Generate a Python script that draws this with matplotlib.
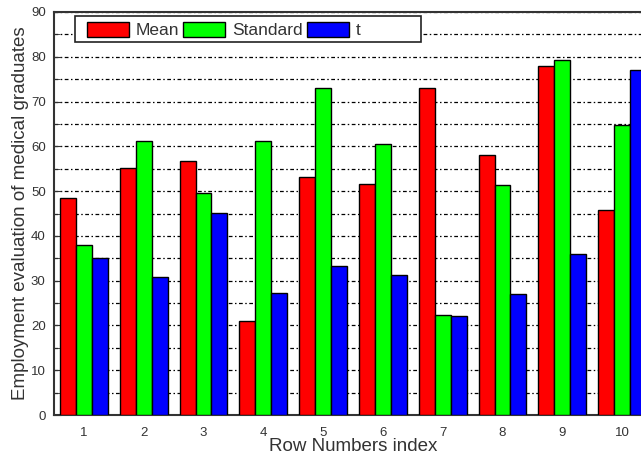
import numpy as np
import matplotlib.pyplot as plt
from matplotlib.patches import Rectangle

plt.rcParams['font.family'] = ['Liberation Sans', 'DejaVu Sans']

# employment evaluation per row index
rows = [1, 2, 3, 4, 5, 6, 7, 8, 9, 10]
mean_vals = [48.4, 55.2, 56.7, 21.1, 53.1, 51.6, 73.0, 58.1, 78.0, 45.7]
std_vals = [38.0, 61.2, 49.6, 61.2, 73.0, 60.5, 22.3, 51.3, 79.2, 64.7]
t_vals = [35.1, 30.9, 45.2, 27.3, 33.3, 31.2, 22.1, 27.0, 36.0, 77.1]
series_names = ['Mean', 'Standard', 't']

fig = plt.figure(figsize=(6.41, 4.55), dpi=100)
ax = fig.add_axes([54 / 641, 40 / 455, 598 / 641, 403 / 455])

x = np.array(rows)
w = 0.267
gray = '#333333'
for off, vals, col, name in zip([-w, 0, w], [mean_vals, std_vals, t_vals],
                                ['#ff0000', '#00ff00', '#0000ff'], series_names):
    ax.bar(x + off, vals, width=w, color=col, edgecolor='black',
           linewidth=1.0, label=name, zorder=3)

ax.set_xlim(0.5, 10.5)
ax.set_ylim(0, 90)
ax.set_xticks(rows)
ax.set_yticks(np.arange(0, 91, 10))
ax.set_yticks(np.arange(0, 91, 5), minor=True)

ax.yaxis.grid(True, which='both', color='black', linewidth=0.9,
              dashes=(3, 2, 1.2, 2), zorder=1)
ax.set_axisbelow(True)

ax.tick_params(axis='both', which='both', direction='in', color=gray,
               labelcolor=gray, labelsize=9.5)
ax.tick_params(axis='y', which='major', length=5, pad=6)
ax.tick_params(axis='y', which='minor', length=4)
ax.tick_params(axis='x', which='major', length=6, pad=9)
ax.tick_params(axis='x', which='minor', length=0)

for s in ['left', 'bottom', 'top']:
    ax.spines[s].set_color(gray)
    ax.spines[s].set_linewidth(1.5)
ax.spines['right'].set_visible(False)

ax.set_xlabel('Row Numbers index', fontsize=13.5, color=gray, labelpad=-1)
ax.set_ylabel('Employment evaluation of medical graduates', fontsize=13.5,
              color=gray, labelpad=1)

# legend box drawn separately so it can be wider than its entries
box = Rectangle((75 / 641, 1 - 42 / 455), 346 / 641, 26 / 455,
                transform=fig.transFigure, facecolor='white', edgecolor='#222222',
                linewidth=1.2, zorder=5, clip_on=False)
ax.add_patch(box)

leg = ax.legend(loc='center left', bbox_to_anchor=(87 / 641, 1 - 30 / 455),
                bbox_transform=fig.transFigure, ncol=3, frameon=False,
                borderpad=0, borderaxespad=0, handlelength=2.4, handleheight=0.95,
                handletextpad=0.4, columnspacing=0.25, fontsize=12.5)
for txt in leg.get_texts():
    txt.set_color(gray)
leg.set_zorder(6)

fig.savefig('out.png', dpi=100)
